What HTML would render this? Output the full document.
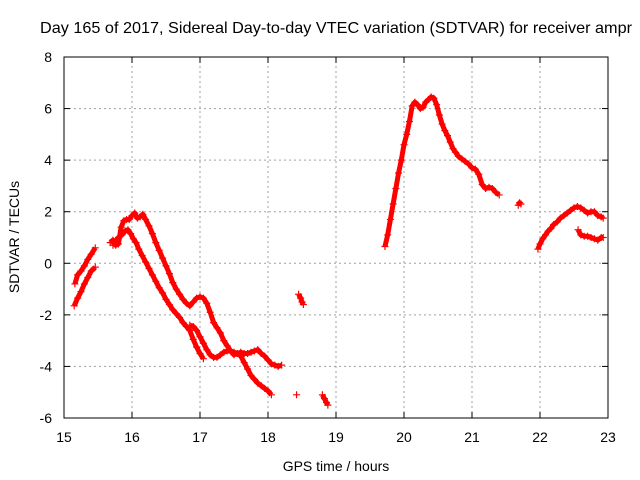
<!DOCTYPE html>
<html><head><meta charset="utf-8"><style>
html,body{margin:0;padding:0;background:#fff;overflow:hidden;}
svg{display:block;font-family:"Liberation Sans",sans-serif;}
</style></head><body>
<svg id="chart" width="640" height="480">
<text x="40" y="33" font-size="16" textLength="592" lengthAdjust="spacingAndGlyphs">Day 165 of 2017, Sidereal Day-to-day VTEC variation (SDTVAR) for receiver ampr</text>
<text x="336" y="471" font-size="14" text-anchor="middle">GPS time / hours</text>
<text x="19" y="237" font-size="14" text-anchor="middle" transform="rotate(-90 19 237)">SDTVAR / TECUs</text>
<g id="grid"></g><g id="ticks"></g><g id="marks"></g>
<rect x="64" y="57" width="544" height="361" fill="none" stroke="#000" stroke-width="1"/>
</svg>
<script>
const xTicks=[15,16,17,18,19,20,21,22,23];
const yTicks=[-6,-4,-2,0,2,4,6,8];
const segA1=[[15.16,-0.8],[15.2,-0.45],[15.25,-0.3],[15.3,-0.1],[15.35,0.15],[15.4,0.35],[15.46,0.6]];
const segA2=[[15.15,-1.65],[15.2,-1.35],[15.25,-1.1],[15.3,-0.8],[15.35,-0.55],[15.4,-0.3],[15.46,-0.15]];
const segB=[[15.68,0.8],[15.72,0.9],[15.76,0.7],[15.8,0.75],[15.84,1.4],[15.88,1.65],[15.92,1.7],[15.96,1.7],[16.0,1.85],[16.04,1.95],[16.08,1.75],[16.12,1.8],[16.16,1.9],[16.2,1.7],[16.25,1.45],[16.3,1.15],[16.35,0.8],[16.4,0.5],[16.45,0.2],[16.5,-0.1],[16.55,-0.4],[16.6,-0.75],[16.65,-1.0],[16.7,-1.2],[16.75,-1.4],[16.8,-1.55],[16.85,-1.65],[16.9,-1.5],[16.95,-1.35],[17.0,-1.3],[17.05,-1.35],[17.1,-1.55],[17.15,-1.9],[17.2,-2.3],[17.25,-2.5],[17.3,-2.7],[17.35,-3.0],[17.4,-3.2],[17.45,-3.4],[17.5,-3.55],[17.55,-3.5],[17.6,-3.45],[17.65,-3.5],[17.7,-3.5],[17.75,-3.45],[17.8,-3.4],[17.85,-3.35],[17.9,-3.5],[17.95,-3.6],[18.0,-3.75],[18.05,-3.9],[18.1,-3.95],[18.15,-4.0],[18.2,-3.95]];
const segC=[[15.72,0.7],[15.76,0.85],[15.8,1.0],[15.85,1.1],[15.9,1.25],[15.94,1.3],[15.98,1.15],[16.02,0.95],[16.06,0.8],[16.1,0.55],[16.15,0.3],[16.2,0.05],[16.25,-0.2],[16.3,-0.45],[16.35,-0.7],[16.4,-0.95],[16.45,-1.15],[16.5,-1.4],[16.55,-1.6],[16.6,-1.8],[16.65,-1.95],[16.7,-2.1],[16.75,-2.3],[16.8,-2.45],[16.85,-2.6],[16.9,-2.95],[16.95,-3.25],[17.0,-3.5],[17.05,-3.7]];
const segD=[[16.85,-2.4],[16.9,-2.45],[16.95,-2.6],[17.0,-2.85],[17.05,-3.1],[17.1,-3.35],[17.15,-3.55],[17.2,-3.65],[17.25,-3.65],[17.3,-3.55],[17.35,-3.45],[17.4,-3.4],[17.45,-3.4],[17.5,-3.45],[17.55,-3.5],[17.6,-3.6],[17.65,-3.85],[17.7,-4.1],[17.75,-4.35],[17.8,-4.5],[17.85,-4.65],[17.9,-4.75],[17.95,-4.85],[18.0,-4.95],[18.05,-5.1]];
const segI1=[[18.45,-1.2],[18.48,-1.35],[18.5,-1.5],[18.52,-1.6]];
const segI2=[[18.42,-5.1]];
const segI3=[[18.8,-5.1],[18.83,-5.25],[18.86,-5.4],[18.88,-5.5]];
const segI4=[[21.68,2.25],[21.7,2.35],[21.72,2.3]];
const segE=[[19.72,0.65],[19.76,1.1],[19.8,1.7],[19.84,2.3],[19.88,2.9],[19.92,3.5],[19.96,4.0],[20.0,4.6],[20.04,5.0],[20.08,5.5],[20.12,6.1],[20.16,6.25],[20.2,6.15],[20.24,6.0],[20.28,6.05],[20.32,6.25],[20.36,6.35],[20.4,6.45],[20.44,6.4],[20.48,6.15],[20.52,5.75],[20.56,5.4],[20.6,5.15],[20.64,4.95],[20.68,4.7],[20.72,4.45],[20.76,4.3],[20.8,4.15],[20.85,4.05],[20.9,3.95],[20.95,3.85],[21.0,3.7],[21.05,3.65],[21.1,3.45],[21.15,3.05],[21.2,2.9],[21.25,2.95],[21.3,2.9],[21.35,2.75],[21.4,2.65]];
const segF=[[21.97,0.55],[22.0,0.75],[22.04,0.95],[22.08,1.1],[22.12,1.25],[22.16,1.35],[22.2,1.5],[22.25,1.6],[22.3,1.75],[22.35,1.85],[22.4,1.95],[22.45,2.05],[22.5,2.15],[22.55,2.2],[22.6,2.15],[22.65,2.05],[22.7,1.95],[22.75,2.0],[22.8,2.0],[22.85,1.85],[22.9,1.8],[22.93,1.75]];
const segG=[[22.56,1.3],[22.6,1.1],[22.65,1.05],[22.7,1.05],[22.75,1.0],[22.8,0.95],[22.85,0.9],[22.9,1.0],[22.93,1.0]];
const series=[segA1,segA2,segB,segC,segD,segI1,segI2,segI3,segI4,segE,segF,segG];

const X0=64,X1=608,Y0=418,Y1=57,XMIN=15,XMAX=23,YMIN=-6,YMAX=8;
function sx(v){return X0+(v-XMIN)/(XMAX-XMIN)*(X1-X0);}
function sy(v){return Y0-(v-YMIN)/(YMAX-YMIN)*(Y0-Y1);}
const NS="http://www.w3.org/2000/svg";
function mk(tag,attrs,parent){const e=document.createElementNS(NS,tag);for(const k in attrs)e.setAttribute(k,attrs[k]);parent.appendChild(e);return e;}
const grid=document.getElementById('grid'),ticks=document.getElementById('ticks'),marks=document.getElementById('marks');
xTicks.forEach(t=>{const x=sx(t);
 if(t>XMIN&&t<XMAX){const g=mk('line',{x1:x,y1:Y0,x2:x,y2:Y1,stroke:'#a0a0a0','stroke-dasharray':'2,3','stroke-width':1},grid);
 
 }
 mk('line',{x1:x,y1:Y0,x2:x,y2:Y0-6,stroke:'#000'},ticks);
 mk('line',{x1:x,y1:Y1,x2:x,y2:Y1+6,stroke:'#000'},ticks);
 const l=mk('text',{x:x,y:Y0+24,'font-size':14,'text-anchor':'middle'},ticks);l.textContent=t;
 
 
});
yTicks.forEach(t=>{const y=sy(t);
 if(t>YMIN&&t<YMAX){const g=mk('line',{x1:X0,y1:y,x2:X1,y2:y,stroke:'#a0a0a0','stroke-dasharray':'2,3','stroke-width':1},grid);
 
 }
 mk('line',{x1:X0,y1:y,x2:X0+6,y2:y,stroke:'#000'},ticks);
 mk('line',{x1:X1,y1:y,x2:X1-6,y2:y,stroke:'#000'},ticks);
 const l=mk('text',{x:X0-12,y:y+5,'font-size':14,'text-anchor':'end'},ticks);l.textContent=t;
 
 
});
series.forEach(seg=>{
 if(seg.length>1){
  const pl=mk('polyline',{points:seg.map(p=>sx(p[0])+','+sy(p[1])).join(' '),stroke:'#ff0000','stroke-width':5,fill:'none','stroke-linejoin':'round'},marks);
  
  
 }
 seg.forEach(p=>{const x=sx(p[0]),y=sy(p[1]);
 const m=mk('path',{d:`M${x-3.5},${y}H${x+3.5}M${x},${y-3.5}V${y+3.5}`,stroke:'#ff0000','stroke-width':1.2,fill:'none'},marks);
 
 
});});
</script>
</body></html>
